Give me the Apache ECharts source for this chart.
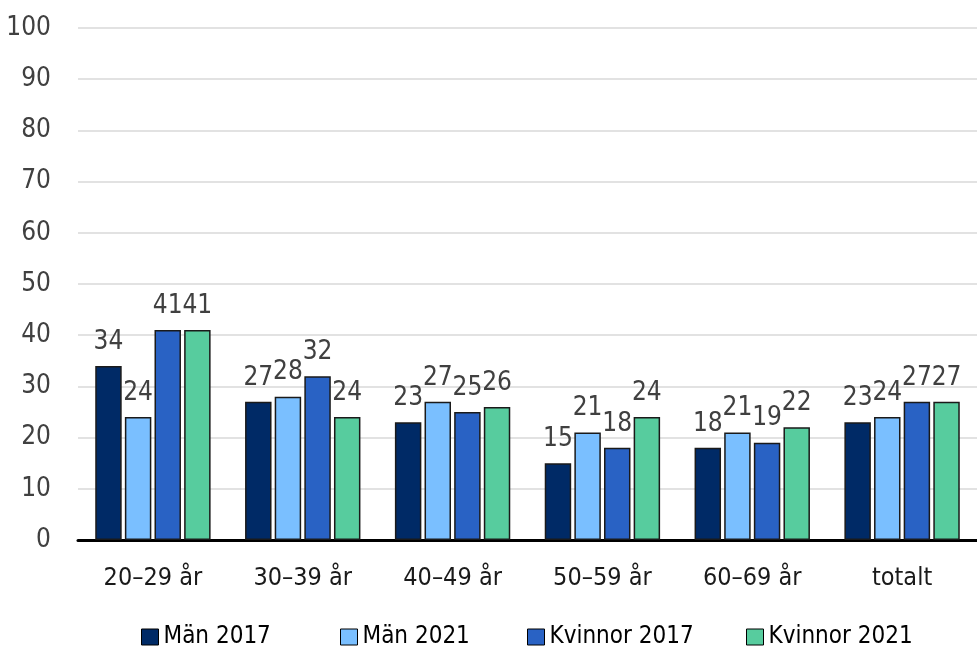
<!DOCTYPE html>
<html>
<head>
	<meta charset="utf-8">
	<title>Andel per åldersgrupp</title>
	<script src="https://cdn.jsdelivr.net/npm/echarts@6/dist/echarts.min.js"></script>
	<style>
		html, body { margin: 0; padding: 0; background: #fff; }
	</style>
</head>
<body>
	<div id="main" style="width: 977px; height: 647px;"></div>
	<script type="text/javascript">
		// kategorier och serier
		var categories = ['20–29 år', '30–39 år', '40–49 år', '50–59 år', '60–69 år', 'totalt'];
		var seriesNames = ['Män 2017', 'Män 2021', 'Kvinnor 2017', 'Kvinnor 2021'];
		var man2017 = [34, 27, 23, 15, 18, 23];
		var man2021 = [24, 28, 27, 21, 21, 24];
		var kvinnor2017 = [41, 32, 25, 18, 19, 27];
		var kvinnor2021 = [41, 24, 26, 24, 22, 27];
		var colors = ['#002a66', '#7abfff', '#2962c4', '#57cc9e'];
		// legendens x-positioner
		var legendLeft = [141, 340, 527, 746];

		var font = "'DejaVu Sans Condensed', 'Liberation Sans', sans-serif";
		var chart = echarts.init(document.getElementById('main'));

		var allData = [man2017, man2021, kvinnor2017, kvinnor2021];
		var series = [];
		var legends = [];
		for (var i = 0; i < seriesNames.length; i++) {
			series.push({
				name: seriesNames[i],
				type: 'bar',
				data: allData[i],
				barGap: '12%',
				barCategoryGap: '23%',
				itemStyle: {
					color: colors[i],
					borderColor: '#1a1a1a',
					borderWidth: 1.5
				},
				label: {
					show: true,
					position: 'top',
					distance: 11,
					color: '#404040',
					fontSize: 26,
					fontFamily: font
				}
			});
			legends.push({
				left: legendLeft[i],
				top: 625,
				padding: 0,
				itemWidth: 17,
				itemHeight: 16,
				icon: 'rect',
				itemStyle: { borderColor: '#000', borderWidth: 1 },
				textStyle: {
					fontSize: 24,
					color: '#000',
					fontFamily: font
				},
				data: [seriesNames[i]]
			});
		}

		var option = {
			backgroundColor: '#fff',
			animation: false,
			color: colors,
			grid: { left: 78, right: 0, top: 28, bottom: 107 },
			legend: legends,
			xAxis: {
				type: 'category',
				data: categories,
				axisLine: { lineStyle: { color: '#000', width: 3 } },
				axisTick: { show: false },
				axisLabel: { color: '#1a1a1a', fontSize: 25, fontFamily: font, margin: 26 }
			},
			yAxis: {
				type: 'value',
				min: 0,
				max: 100,
				interval: 10,
				axisLine: { show: false },
				axisTick: { show: false },
				splitLine: { lineStyle: { color: '#d9d9d9', width: 1.5 } },
				axisLabel: { color: '#404040', fontSize: 26, fontFamily: font, margin: 27 }
			},
			series: series
		};
		chart.setOption(option);
	</script>
</body>
</html>
